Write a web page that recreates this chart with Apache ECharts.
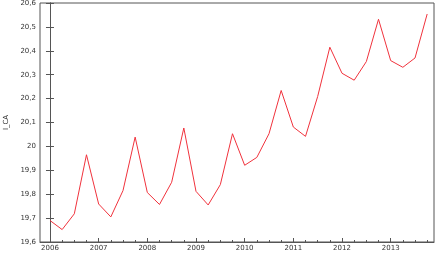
<!DOCTYPE html>
<html><head><meta charset="utf-8">
<script src="https://cdn.jsdelivr.net/npm/echarts@6/dist/echarts.min.js"></script>
<style>html,body{margin:0;padding:0;background:#fff}#c{width:436px;height:254px}</style>
</head><body><div id="c"></div>
<script>
const years = ['2006','2007','2008','2009','2010','2011','2012','2013'];
const quarters = ['2006Q1','2006Q2','2006Q3','2006Q4','2007Q1','2007Q2','2007Q3','2007Q4','2008Q1','2008Q2','2008Q3','2008Q4','2009Q1','2009Q2','2009Q3','2009Q4','2010Q1','2010Q2','2010Q3','2010Q4','2011Q1','2011Q2','2011Q3','2011Q4','2012Q1','2012Q2','2012Q3','2012Q4','2013Q1','2013Q2','2013Q3','2013Q4'];
const iCA = [19.690,19.652,19.718,19.965,19.759,19.705,19.815,20.039,19.807,19.757,19.850,20.077,19.812,19.755,19.840,20.053,19.921,19.954,20.053,20.234,20.081,20.042,20.209,20.415,20.306,20.277,20.355,20.532,20.359,20.331,20.370,20.554];
const yTicks = [19.6,19.7,19.8,19.9,20,20.1,20.2,20.3,20.4,20.5,20.6];

const yearPos = years.map((y,i)=>i*4);
const quarterPos = quarters.map((q,i)=>i);
const seriesData = iCA.map((v,i)=>[i,v]);
const fmt = v => String(+(+v).toFixed(1)).replace('.', ',');
const axisCol = '#555';
const txtCol = '#333';
const font = 'DejaVu Sans';

const chart = echarts.init(document.getElementById('c'), null, {renderer:'canvas'});
chart.setOption({
  animation:false,
  grid:{left:40,right:2,top:3,bottom:12,outerBoundsMode:'none',containLabel:false,show:true,borderColor:axisCol,borderWidth:1,backgroundColor:'transparent'},
  xAxis:[{
    type:'value', min:-0.82, max:31.56,
    axisLine:{show:true,lineStyle:{color:axisCol}},
    splitLine:{show:false},
    axisTick:{show:true,inside:true,length:4,customValues:yearPos,lineStyle:{color:axisCol}},
    axisLabel:{show:true,customValues:yearPos,margin:3,fontSize:7,fontFamily:font,color:txtCol,
      formatter:v=>years[Math.round(v/4)]}
  },{
    type:'value', min:-0.82, max:31.56, position:'bottom',
    axisLine:{show:false},
    splitLine:{show:false},
    axisTick:{show:true,inside:true,length:2,customValues:quarterPos,lineStyle:{color:axisCol}},
    axisLabel:{show:false}
  }],
  yAxis:[{
    type:'value', min:19.6, max:20.6, interval:0.1,
    name:'I_CA', nameLocation:'middle', nameRotate:90, nameGap:30,
    nameTextStyle:{fontSize:7,fontFamily:font,color:txtCol},
    axisLine:{show:true,lineStyle:{color:axisCol}},
    splitLine:{show:false},
    axisTick:{show:true,inside:true,length:4,lineStyle:{color:axisCol}},
    axisLabel:{margin:4,fontSize:7,fontFamily:font,color:txtCol,formatter:fmt}
  },{
    type:'value', min:19.6, max:20.6, interval:0.1, position:'right',
    axisLine:{show:true,lineStyle:{color:axisCol}},
    splitLine:{show:false},
    axisTick:{show:true,inside:true,length:4,lineStyle:{color:axisCol}},
    axisLabel:{show:false}
  }],
  series:[{
    type:'line', xAxisIndex:0, yAxisIndex:0, data:seriesData,
    showSymbol:false, symbol:'none',
    lineStyle:{color:'#f0323c',width:1},
    itemStyle:{color:'#f0323c'}
  }]
});
</script></body></html>
